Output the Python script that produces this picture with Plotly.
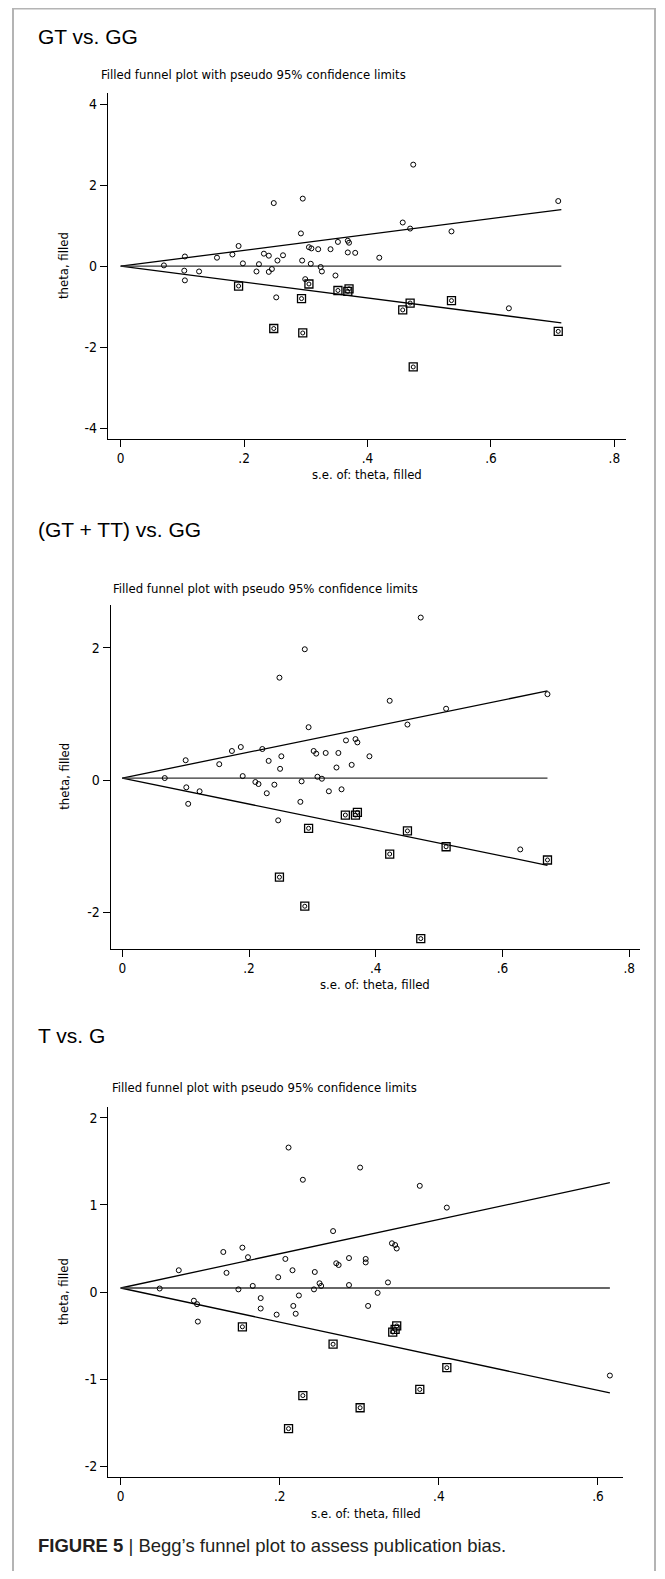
import plotly.graph_objects as go

# reference canvas is 665x1579; the page body adds an 8px margin, so the figure is
# drawn 8px in from the top-left and all positions below are given in reference pixels
REF_W, REF_H = 665, 1579
OFF = 8
W, H = REF_W - OFF, REF_H - 2 * OFF


def fx(px):
    return (px - OFF) / W


def fy(py):
    return 1 - (py - OFF) / H


# ---------------- DATA ----------------
# Panel 1: GT vs. GG
p1_obs_se = [0.070, 0.104, 0.103, 0.104, 0.127, 0.156, 0.181, 0.191, 0.198, 0.220, 0.224, 0.232,
             0.240, 0.240, 0.245, 0.248, 0.254, 0.263, 0.252, 0.292, 0.295, 0.294, 0.305, 0.309,
             0.308, 0.299, 0.320, 0.324, 0.326, 0.340, 0.348, 0.352, 0.368, 0.370, 0.368, 0.380,
             0.419, 0.474, 0.457, 0.469, 0.536, 0.709, 0.629]
p1_obs_theta = [0.02, 0.24, -0.11, -0.35, -0.13, 0.21, 0.29, 0.50, 0.07, -0.13, 0.05, 0.31,
                0.26, -0.14, -0.07, 1.56, 0.14, 0.27, -0.77, 0.81, 1.67, 0.14, 0.47, 0.44,
                0.06, -0.32, 0.42, -0.02, -0.13, 0.42, -0.23, 0.60, 0.63, 0.58, 0.34, 0.33,
                0.21, 2.51, 1.08, 0.93, 0.86, 1.61, -1.04]
p1_fill_se = [0.191, 0.248, 0.293, 0.295, 0.305, 0.352, 0.368, 0.370, 0.457, 0.469, 0.536, 0.709, 0.474]
p1_fill_theta = [-0.49, -1.54, -0.80, -1.65, -0.44, -0.60, -0.62, -0.56, -1.08, -0.91, -0.85, -1.61, -2.49]
p1_funnel_se = [0.0, 0.714]
p1_upper = [0.0, 1.40]
p1_lower = [0.0, -1.40]
p1_center = [0.0, 0.0]

# Panel 2: (GT + TT) vs. GG
p2_obs_se = [0.067, 0.100, 0.101, 0.104, 0.122, 0.153, 0.173, 0.187, 0.190, 0.210, 0.215, 0.221,
             0.228, 0.231, 0.240, 0.248, 0.249, 0.251, 0.246, 0.283, 0.281, 0.288, 0.294, 0.302,
             0.306, 0.308, 0.315, 0.321, 0.326, 0.338, 0.341, 0.346, 0.353, 0.362, 0.368, 0.371,
             0.390, 0.422, 0.450, 0.511, 0.671, 0.628, 0.471]
p2_obs_theta = [0.03, 0.30, -0.11, -0.36, -0.17, 0.24, 0.44, 0.50, 0.06, -0.03, -0.06, 0.47,
                -0.20, 0.29, -0.07, 1.55, 0.17, 0.36, -0.61, -0.02, -0.33, 1.98, 0.80, 0.44,
                0.40, 0.05, 0.02, 0.41, -0.17, 0.19, 0.41, -0.14, 0.60, 0.23, 0.62, 0.57,
                0.36, 1.20, 0.84, 1.08, 1.30, -1.05, 2.46]
p2_fill_se = [0.248, 0.288, 0.294, 0.352, 0.368, 0.371, 0.422, 0.450, 0.511, 0.671, 0.471]
p2_fill_theta = [-1.47, -1.91, -0.73, -0.53, -0.53, -0.49, -1.12, -0.77, -1.01, -1.21, -2.40]
p2_funnel_se = [0.0, 0.671]
p2_upper = [0.03, 1.35]
p2_lower = [0.03, -1.29]
p2_center = [0.03, 0.03]

# Panel 3: T vs. G
p3_obs_se = [0.049, 0.073, 0.092, 0.096, 0.097, 0.129, 0.133, 0.148, 0.153, 0.160, 0.166, 0.176,
             0.176, 0.196, 0.198, 0.207, 0.211, 0.216, 0.217, 0.220, 0.224, 0.229, 0.243, 0.244,
             0.250, 0.252, 0.267, 0.271, 0.274, 0.287, 0.287, 0.301, 0.308, 0.308, 0.311, 0.323,
             0.336, 0.341, 0.345, 0.347, 0.376, 0.410, 0.615]
p3_obs_theta = [0.04, 0.25, -0.10, -0.14, -0.34, 0.46, 0.22, 0.03, 0.51, 0.40, 0.07, -0.07,
                -0.19, -0.26, 0.17, 0.38, 1.66, 0.25, -0.16, -0.25, -0.04, 1.29, 0.03, 0.23,
                0.10, 0.07, 0.70, 0.33, 0.31, 0.39, 0.08, 1.43, 0.38, 0.34, -0.16, -0.01,
                0.11, 0.56, 0.54, 0.50, 1.22, 0.97, -0.96]
p3_fill_se = [0.153, 0.267, 0.229, 0.301, 0.211, 0.342, 0.345, 0.347, 0.410, 0.376]
p3_fill_theta = [-0.40, -0.60, -1.19, -1.33, -1.57, -0.46, -0.43, -0.39, -0.87, -1.12]
p3_funnel_se = [0.0, 0.615]
p3_upper = [0.046, 1.257]
p3_lower = [0.046, -1.160]
p3_center = [0.046, 0.046]

titles = ["GT vs. GG", "(GT + TT) vs. GG", "T vs. G"]
subtitle = "Filled funnel plot with pseudo 95% confidence limits"
xlabel = "s.e. of: theta, filled"
ylabel = "theta, filled"
caption_bold = "FIGURE 5"
caption_rest = " | Begg\u2019s funnel plot to assess publication bias."
x_ticks = [[0, 0.2, 0.4, 0.6, 0.8], [0, 0.2, 0.4, 0.6, 0.8], [0, 0.2, 0.4, 0.6]]
x_ticktext = [["0", ".2", ".4", ".6", ".8"], ["0", ".2", ".4", ".6", ".8"], ["0", ".2", ".4", ".6"]]
y_ticks = [[-4, -2, 0, 2, 4], [-2, 0, 2], [-2, -1, 0, 1, 2]]
y_ticktext = [["-4", "-2", "0", "2", "4"], ["-2", "0", "2"], ["-2", "-1", "0", "1", "2"]]

# ---------------- LAYOUT (reference pixels) ----------------
panels = [
    dict(px=(108, 625.5), py=(93, 439), xr=(-0.0206, 0.818), yr=(-4.27, 4.28),
         title_y=37, sub_x=99, sub_y=75, xlab_y=474, ylab_x=63),
    dict(px=(110.7, 640), py=(605, 948.5), xr=(-0.0183, 0.817), yr=(-2.55, 2.65),
         title_y=530, sub_x=111, sub_y=588, xlab_y=984, ylab_x=65),
    dict(px=(108.3, 623.4), py=(1107, 1477), xr=(-0.0156, 0.632), yr=(-2.126, 2.126),
         title_y=1035, sub_x=110, sub_y=1087, xlab_y=1513, ylab_x=63),
]

data_sets = [
    (p1_obs_se, p1_obs_theta, p1_fill_se, p1_fill_theta, p1_funnel_se, p1_upper, p1_lower, p1_center),
    (p2_obs_se, p2_obs_theta, p2_fill_se, p2_fill_theta, p2_funnel_se, p2_upper, p2_lower, p2_center),
    (p3_obs_se, p3_obs_theta, p3_fill_se, p3_fill_theta, p3_funnel_se, p3_upper, p3_lower, p3_center),
]

MAIN_FONT = "Liberation Sans, Arial, Helvetica, sans-serif"
NARROW_FONT = "Liberation Sans Narrow, Arial Narrow, DejaVu Sans Condensed, Liberation Sans, sans-serif"

fig = go.Figure()
annotations = []
layout_axes = {}

for i, (pan, ds) in enumerate(zip(panels, data_sets)):
    obs_se, obs_th, fill_se, fill_th, f_se, up, lo, ce = ds
    n = "" if i == 0 else str(i + 1)
    xa, ya = "x" + n, "y" + n
    for yy, col in [(up, "black"), (lo, "black"), (ce, "#333333")]:
        fig.add_trace(go.Scatter(x=f_se, y=yy, mode="lines", xaxis=xa, yaxis=ya,
                                 line=dict(color=col, width=1.3), showlegend=False, hoverinfo="skip"))
    fig.add_trace(go.Scatter(x=obs_se, y=obs_th, mode="markers", xaxis=xa, yaxis=ya,
                             marker=dict(symbol="circle-open", size=5, color="black", line=dict(width=1)),
                             showlegend=False))
    fig.add_trace(go.Scatter(x=fill_se, y=fill_th, mode="markers", xaxis=xa, yaxis=ya,
                             marker=dict(symbol="square-open", size=8, color="black", line=dict(width=1.3)),
                             showlegend=False))
    fig.add_trace(go.Scatter(x=fill_se, y=fill_th, mode="markers", xaxis=xa, yaxis=ya,
                             marker=dict(symbol="circle-open", size=4, color="black", line=dict(width=1)),
                             showlegend=False))

    x0, x1 = pan["px"]
    yt, yb = pan["py"]
    layout_axes["xaxis" + n] = dict(
        domain=[fx(x0), fx(x1)], range=list(pan["xr"]), anchor=ya,
        showline=True, linecolor="black", linewidth=1.2, showgrid=False, zeroline=False,
        ticks="outside", ticklen=7, tickwidth=1, tickcolor="black",
        tickvals=x_ticks[i], ticktext=x_ticktext[i],
        tickfont=dict(family=NARROW_FONT, size=13.5, color="black"), fixedrange=True)
    layout_axes["yaxis" + n] = dict(
        domain=[fy(yb), fy(yt)], range=list(pan["yr"]), anchor=xa,
        showline=True, linecolor="black", linewidth=1.2, showgrid=False, zeroline=False,
        ticks="outside", ticklen=7, tickwidth=1, tickcolor="black",
        tickvals=y_ticks[i], ticktext=y_ticktext[i],
        tickfont=dict(family=NARROW_FONT, size=14, color="black"), fixedrange=True)

    annotations.append(dict(text=titles[i], x=fx(36), y=fy(pan["title_y"]), xref="paper", yref="paper",
                            xanchor="left", yanchor="middle", showarrow=False,
                            font=dict(family=MAIN_FONT, size=21, color="black")))
    annotations.append(dict(text=subtitle, x=fx(pan["sub_x"]), y=fy(pan["sub_y"]), xref="paper", yref="paper",
                            xanchor="left", yanchor="middle", showarrow=False,
                            font=dict(family=NARROW_FONT, size=13, color="black")))
    annotations.append(dict(text=xlabel, x=fx((x0 + x1) / 2), y=fy(pan["xlab_y"]), xref="paper", yref="paper",
                            xanchor="center", yanchor="middle", showarrow=False,
                            font=dict(family=NARROW_FONT, size=13, color="black")))
    annotations.append(dict(text=ylabel, x=fx(pan["ylab_x"]), y=fy((yt + yb) / 2), xref="paper", yref="paper",
                            xanchor="center", yanchor="middle", showarrow=False, textangle=-90,
                            font=dict(family=NARROW_FONT, size=13, color="black")))

annotations.append(dict(text="<b>" + caption_bold + "</b>" + caption_rest,
                        x=fx(36), y=fy(1545), xref="paper", yref="paper",
                        xanchor="left", yanchor="middle", showarrow=False,
                        font=dict(family=MAIN_FONT, size=18.5, color="#231f20")))

fig.update_layout(
    width=W, height=H, margin=dict(l=0, r=0, t=0, b=0),
    paper_bgcolor="white", plot_bgcolor="white",
    annotations=annotations,
    shapes=[dict(type="rect", xref="paper", yref="paper", x0=fx(13), x1=fx(655), y0=-0.02, y1=1 - 0.6 / H,
                 line=dict(color="#b4b4b4", width=2), fillcolor="rgba(0,0,0,0)", layer="below")],
    **layout_axes,
)

fig.write_html("out.html")
